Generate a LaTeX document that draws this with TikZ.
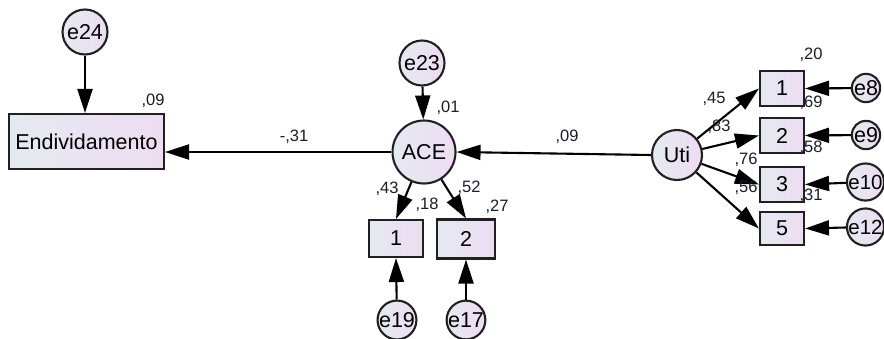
\documentclass[tikz,border=0pt]{standalone}
\usepackage{fontspec}
\setmainfont{Liberation Sans}
\usetikzlibrary{arrows.meta}
\definecolor{fillL}{HTML}{E4EAF1}
\definecolor{fillR}{HTML}{EEDCF1}
\definecolor{edge}{HTML}{202020}
\definecolor{lbltext}{HTML}{1C1C2A}
\tikzset{
  shade/.style={left color=fillL, right color=fillR, draw=edge, line width=2.1pt},
  latent/.style={shade, circle, inner sep=0pt, font=\fontsize{21.5}{21.5}\selectfont},
  errvar/.style={shade, circle, inner sep=0pt, font=\fontsize{21.5}{21.5}\selectfont},
  obsvar/.style={shade, rectangle, inner sep=0pt, font=\fontsize{21.5}{21.5}\selectfont},
  regpath/.style={draw=black, line width=2.1pt, -{Triangle[length=24pt,width=15pt]}},
  coef/.style={inner sep=0pt, text=lbltext, font=\fontsize{16.5}{16.5}\selectfont},
}
\begin{document}
\begin{tikzpicture}[x=1pt,y=-1pt]
\useasboundingbox (0,0) rectangle (884,338);

% endogenous outcome
\node[obsvar, minimum width=155pt, minimum height=55pt] (endiv) at (86.5,141.5) {Endividamento};
\node[errvar, minimum size=45pt] (e24) at (85,32) {e24};

% mediator and its indicators
\node[latent, minimum size=63pt] (ace) at (424,152) {ACE};
\node[errvar, minimum size=45pt] (e23) at (422,63) {e23};
\node[obsvar, minimum width=54pt, minimum height=37pt] (a1) at (396,238.5) {1};
\node[obsvar, minimum width=58pt, minimum height=39pt] (a2) at (466,239) {2};
\node[errvar, minimum size=30pt] (e19) at (397,320) {e19};
\node[errvar, minimum size=30pt] (e17) at (466,320) {e17};

% predictor and its indicators
\node[latent, minimum size=50pt] (uti) at (677,155) {Uti};
\node[obsvar, minimum width=44pt, minimum height=35pt] (u1) at (782,88.5) {1};
\node[obsvar, minimum width=44pt, minimum height=35pt] (u2) at (782,135.5) {2};
\node[obsvar, minimum width=44pt, minimum height=35pt] (u3) at (782,184.5) {3};
\node[obsvar, minimum width=44pt, minimum height=33pt] (u5) at (782,228.5) {5};
\node[errvar, minimum size=27pt] (e8) at (866,88) {e8};
\node[errvar, minimum size=27pt] (e9) at (866,135) {e9};
\node[errvar, minimum size=30pt, font=\fontsize{20.5}{20.5}\selectfont] (e10) at (865.5,182) {e10};
\node[errvar, minimum size=30pt, font=\fontsize{20.5}{20.5}\selectfont] (e12) at (865.5,227) {e12};

% structural paths
\draw[regpath] (e24) -- (e24 |- endiv.north);
\draw[regpath] (ace.west) -- (ace.west -| endiv.east);
\draw[regpath] (uti.west) -- (ace.east);
\draw[regpath] (e23) -- (ace);

% measurement paths
\draw[regpath] (ace) -- (a1.north);
\draw[regpath] (ace) -- (a2.north);
\draw[regpath] (e19) -- (a1.south);
\draw[regpath] (e17) -- (a2.south);
\draw[regpath] (uti) -- (u1.west);
\draw[regpath] (uti) -- (u2.west);
\draw[regpath] (uti) -- (u3.west);
\draw[regpath] (uti) -- (u5.west);
\draw[regpath] (e8) -- (u1.east);
\draw[regpath] (e9) -- (u2.east);
\draw[regpath] (e10) -- (u3.east);
\draw[regpath] (e12) -- (u5.east);

% estimates
\node[coef] (r09) at (153,101) {,09};
\node[coef] (p31) at (294,137) {-,31};
\node[coef] (p09) at (567,137) {,09};
\node[coef] (r01) at (448,108) {,01};
\node[coef] (l43) at (387,189) {,43};
\node[coef] (l52) at (469,188) {,52};
\node[coef] (r18) at (427,205) {,18};
\node[coef] (r27) at (497,207) {,27};
\node[coef] (l45) at (714,99) {,45};
\node[coef] (l83) at (719,127) {,83};
\node[coef] (l76) at (746,160) {,76};
\node[coef] (l56) at (746,188) {,56};
\node[coef] (r20) at (811,55) {,20};
\node[coef] (r69) at (811,103) {,69};
\node[coef] (r58) at (811,148) {,58};
\node[coef] (r31) at (811,196) {,31};
\end{tikzpicture}
\end{document}
